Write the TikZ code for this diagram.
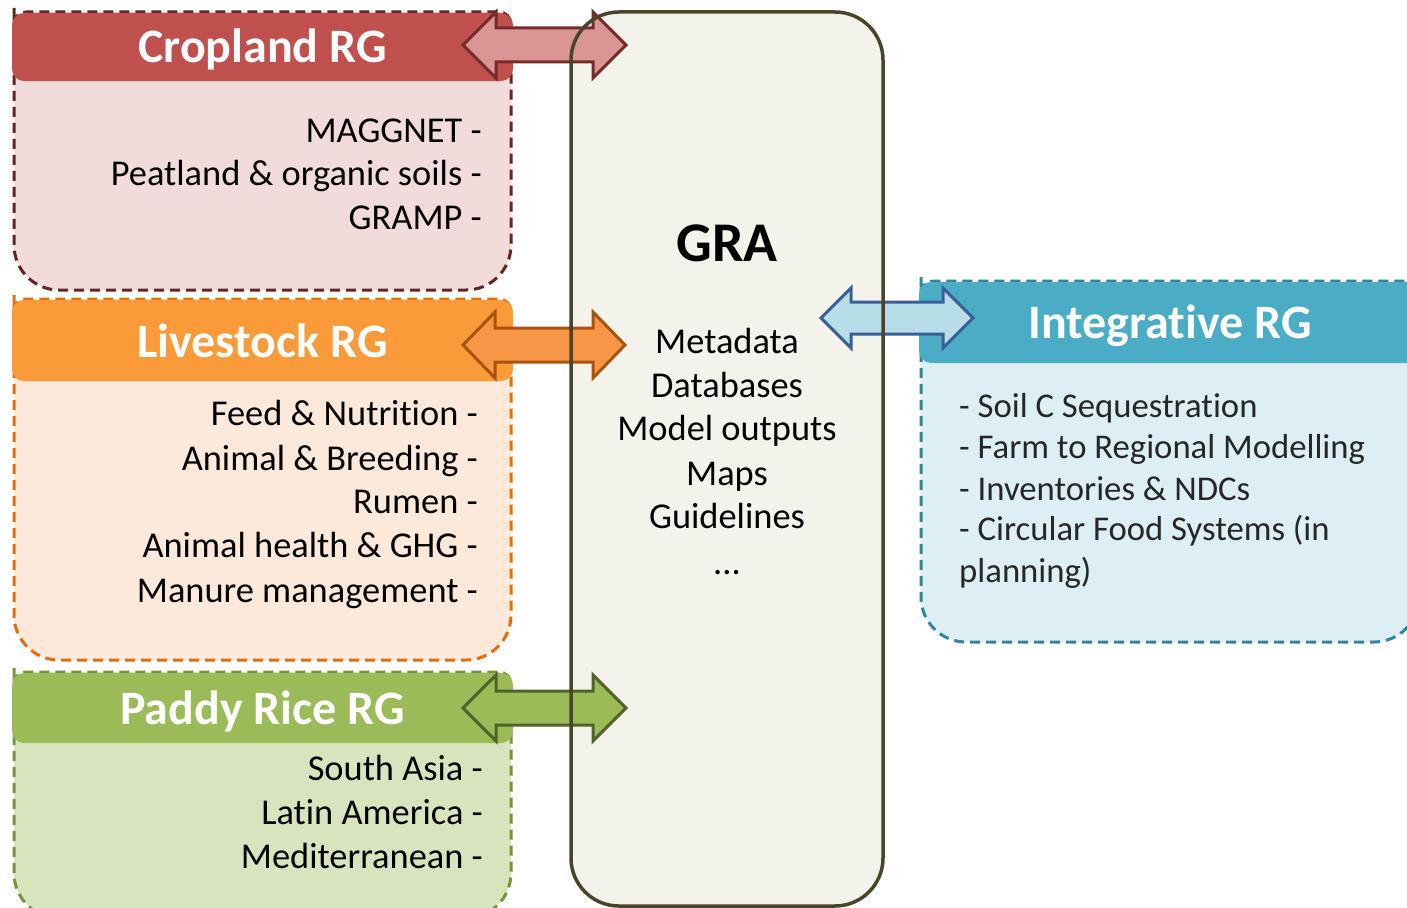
\documentclass[tikz,border=0pt]{standalone}
\usepackage{fontspec}
\setmainfont[Ligatures=NoCommon]{Carlito}
\usetikzlibrary{calc}
\definecolor{cropH}{HTML}{C0504D}
\definecolor{cropB}{HTML}{F2DCDB}
\definecolor{cropD}{HTML}{632523}
\definecolor{cropAF}{HTML}{D99694}
\definecolor{cropAD}{HTML}{772C2A}
\definecolor{liveH}{HTML}{FA9A38}
\definecolor{liveB}{HTML}{FDE9D9}
\definecolor{liveD}{HTML}{E46C0A}
\definecolor{liveAF}{HTML}{F79646}
\definecolor{liveAD}{HTML}{A8530E}
\definecolor{padH}{HTML}{9BBB59}
\definecolor{padB}{HTML}{D7E4BD}
\definecolor{padD}{HTML}{77933C}
\definecolor{padAF}{HTML}{9BBB59}
\definecolor{padAD}{HTML}{4F6228}
\definecolor{intH}{HTML}{4BACC6}
\definecolor{intB}{HTML}{DDEEF5}
\definecolor{intD}{HTML}{31859C}
\definecolor{intAF}{HTML}{B7DDE8}
\definecolor{intAD}{HTML}{3A5F96}
\definecolor{graF}{HTML}{F3F2EB}
\definecolor{graD}{HTML}{4A452A}
\definecolor{txtG}{HTML}{262626}
\newcommand{\groupbox}[8]{%
  \path[fill=#6,draw=#7,dashbox] (#1,#2+40) [rounded corners=12] -- (#1,#2-1) -- (#3,#2-1) -- (#3,#2+40) [rounded corners=45] -- (#3,#5) -- (#1,#5) -- cycle;
  \fill[#8,rounded corners=12] (#1-2,#2) rectangle (#3+2,#4);
}
\newcommand{\blockarrow}[6]{%
  \draw[#1] (#2) -- ($(#2)+(#4,-#5)$) -- ($(#2)+(#4,-#6)$) -- ($(#3)+(-#4,-#6)$) -- ($(#3)+(-#4,-#5)$) -- (#3) -- ($(#3)+(-#4,#5)$) -- ($(#3)+(-#4,#6)$) -- ($(#2)+(#4,#6)$) -- ($(#2)+(#4,#5)$) -- cycle;
}
\begin{document}
\begin{tikzpicture}[x=1pt,y=-1pt,
  dashbox/.style={line width=3pt,dash pattern=on 10pt off 6pt},
  body/.style={inner sep=0pt,font=\fontsize{36.4}{44}\selectfont,text=black},
  ibody/.style={inner sep=0pt,font=\fontsize{34.7}{41}\selectfont,text=txtG},
  title/.style={inner sep=0pt,font=\fontsize{48}{58}\selectfont\bfseries,text=white},
  arr/.style={line width=3pt,line join=miter}]
\useasboundingbox (0,0) rectangle (1407,907);
\fill[white] (0,0) rectangle (1407,907);

% group boxes
\groupbox{14}{13}{511}{81}{290}{cropB}{cropD}{cropH}
\groupbox{14}{300}{511}{381}{660}{liveB}{liveD}{liveH}
\groupbox{14}{673}{511}{743}{918}{padB}{padD}{padH}
\groupbox{921}{282}{1419}{363}{642}{intB}{intD}{intH}

% titles
\node[title,anchor=base] (cropT) at (262.5,63) {Cropland RG};
\node[title,anchor=base] (liveT) at (262.5,357) {Livestock RG};
\node[title,anchor=base] (padT) at (262.5,724) {Paddy Rice RG};
\node[title,anchor=base] (intT) at (1170,338) {Integrative RG};

% cropland items
\node[body,anchor=base east] (c1) at (482,142) {MAGGNET -};
\node[body,anchor=base east] (c2) at (482,185) {Peatland \& organic soils -};
\node[body,anchor=base east] (c3) at (482,229) {GRAMP -};

% livestock items
\node[body,anchor=base east] (l1) at (478,425) {Feed \& Nutrition -};
\node[body,anchor=base east] (l2) at (478,470) {Animal \& Breeding -};
\node[body,anchor=base east] (l3) at (478,513) {Rumen -};
\node[body,anchor=base east] (l4) at (478,557) {Animal health \& GHG -};
\node[body,anchor=base east] (l5) at (478,602) {Manure management -};

% paddy items
\node[body,anchor=base east] (p1) at (483,780) {South Asia -};
\node[body,anchor=base east] (p2) at (483,824) {Latin America -};
\node[body,anchor=base east] (p3) at (483,868) {Mediterranean -};

% integrative items
\node[ibody,anchor=base west] (i1) at (959,417) {- Soil C Sequestration};
\node[ibody,anchor=base west] (i2) at (959,458) {- Farm to Regional Modelling};
\node[ibody,anchor=base west] (i3) at (959,500) {- Inventories \& NDCs};
\node[ibody,anchor=base west] (i4) at (959,540) {- Circular Food Systems (in};
\node[ibody,anchor=base west] (i5) at (959,582) {planning)};

% GRA box
\fill[graF,rounded corners=48] (571,12) rectangle (883,906);
\node[inner sep=0pt,anchor=base,font=\fontsize{56}{60}\selectfont\bfseries] (graT) at (727,261) {GRA};
\node[body,anchor=base] (g1) at (727,353) {Metadata};
\node[body,anchor=base] (g2) at (727,397) {Databases};
\node[body,anchor=base] (g3) at (727,440) {Model outputs};
\node[body,anchor=base] (g4) at (727,485) {Maps};
\node[body,anchor=base] (g5) at (727,528) {Guidelines};
\node[body,anchor=base] (g6) at (727,574) {...};

% arrow end points
\coordinate (cropL) at (463,45);  \coordinate (cropR) at (626,45);
\coordinate (liveL) at (463,345); \coordinate (liveR) at (625,345);
\coordinate (padL) at (463,708);  \coordinate (padR) at (626,708);
\coordinate (intL) at (821,318);  \coordinate (intR) at (973,318);

\blockarrow{arr,fill=cropAF,draw=cropAD}{cropL}{cropR}{33}{33}{17}
\blockarrow{arr,fill=liveAF,draw=liveAD}{liveL}{liveR}{32}{33}{17}
\blockarrow{arr,fill=padAF,draw=padAD}{padL}{padR}{33}{33}{17}
\blockarrow{arr,fill=intAF,draw=intAD}{intL}{intR}{30}{30}{16}

% GRA border, drawn over the arrow shafts
\draw[graD,line width=3.5pt,rounded corners=48] (571,12) rectangle (883,906);
\end{tikzpicture}
\end{document}
